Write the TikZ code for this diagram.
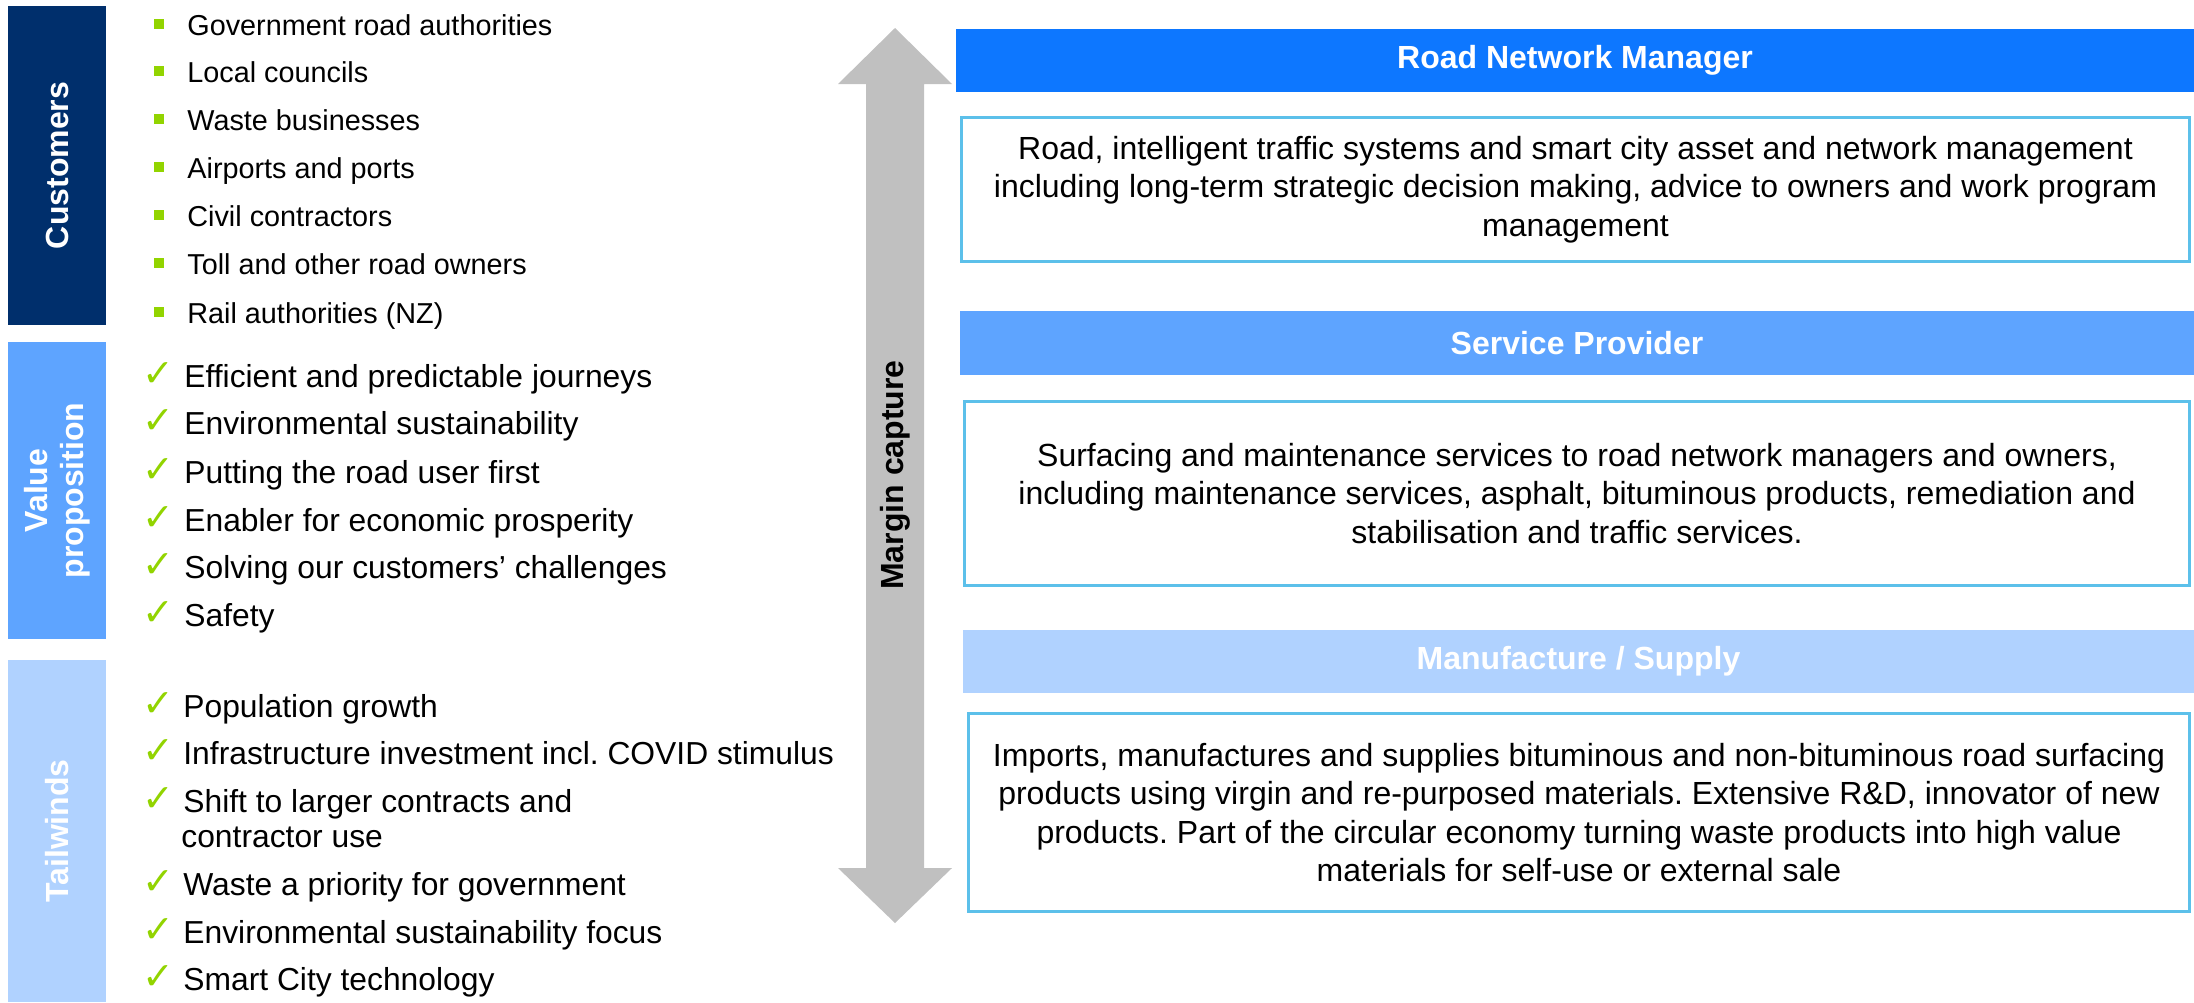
\documentclass[tikz,border=0pt]{standalone}
\usepackage{fontspec}
\setmainfont{Liberation Sans}
\newfontfamily\symfont{DejaVu Sans}
\frenchspacing
\definecolor{navy}{RGB}{0,47,108}
\definecolor{midblue}{RGB}{94,164,255}
\definecolor{paleblue}{RGB}{176,210,255}
\definecolor{strongblue}{RGB}{13,119,255}
\definecolor{cyanline}{RGB}{92,192,234}
\definecolor{arrowgray}{RGB}{192,192,192}
\definecolor{bulletgreen}{RGB}{146,212,0}
\tikzset{
  sidebox/.style={inner sep=0pt, minimum width=49pt},
  sidelbl/.style={rotate=90, text=white, font=\bfseries\fontsize{16}{18}\selectfont, align=center, inner sep=0pt},
  itemtxt/.style={anchor=base west, inner sep=0pt, font=\fontsize{14.4}{17.5}\selectfont},
  bigitem/.style={anchor=base west, inner sep=0pt, font=\fontsize{15.9}{17.5}\selectfont},
  sqbullet/.style={fill=bulletgreen, inner sep=0pt, minimum size=5pt},
  tick/.style={inner sep=0pt, text=bulletgreen, font=\symfont\fontsize{19}{19}\selectfont},
  hdrbox/.style={inner sep=0pt, text=white, font=\bfseries\fontsize{16}{18}\selectfont},
  bodybox/.style={draw=cyanline, line width=1.5pt, fill=white, inner sep=0pt, align=center, font=\fontsize{16}{19.25}\selectfont},
}
\begin{document}
\begin{tikzpicture}[x=0.5pt, y=-0.5pt]
\useasboundingbox (0,0) rectangle (2194,1002);
\fill[white] (0,0) rectangle (2194,1002);

% left category boxes
\node[sidebox, fill=navy, minimum height=159.5pt] (custbox) at (57,165.5) {};
\node[sidelbl] (custlbl) at (custbox.center) {Customers};
\node[sidebox, fill=midblue, minimum height=148.5pt] (vpbox) at (57,490.5) {};
\node[sidelbl] (vplbl) at (vpbox.center) {Value\\proposition};
\node[sidebox, fill=paleblue, minimum height=171pt] (twbox) at (57,831) {};
\node[sidelbl] (twlbl) at (twbox.center) {Tailwinds};

% customers items
\foreach \y/\t [count=\i] in {35/Government road authorities, 82/Local councils, 130/Waste businesses, 178/Airports and ports, 226/Civil contractors, 274/Toll and other road owners, 323/Rail authorities (NZ)}{
  \node[sqbullet] (cb\i) at (159,\y-11) {};
  \node[itemtxt] (ct\i) at (187,\y) {\t};
}

% value proposition items
\foreach \y/\t [count=\i] in {387/Efficient and predictable journeys, 434/Environmental sustainability, 483/Putting the road user first, 531/Enabler for economic prosperity, 578/Solving our customers’ challenges, 626/Safety}{
  \node[tick] (vb\i) at (158,\y-12) {✓};
  \node[bigitem] (vt\i) at (184,\y) {\t};
}

% tailwinds items
\foreach \y/\t [count=\i] in {717/Population growth, 764/Infrastructure investment incl. COVID stimulus, 812/Shift to larger contracts and, 895/Waste a priority for government, 943/Environmental sustainability focus, 990/Smart City technology}{
  \node[tick] (tb\i) at (158,\y-12) {✓};
  \node[bigitem] (tt\i) at (183,\y) {\t};
}
\node[bigitem] (tt3b) at (181,847) {contractor use};

% margin capture double arrow
\fill[arrowgray] (895,28) -- (952,84) -- (924,84) -- (924,868) -- (952,868) -- (895,923)
  -- (838,868) -- (866,868) -- (866,84) -- (838,84) -- cycle;
\node[rotate=90, inner sep=0pt, font=\bfseries\fontsize{16}{18}\selectfont] (mc) at (895,475) {Margin capture};

% right column
\node[hdrbox, fill=strongblue, minimum width=619pt, minimum height=31.5pt] (h1) at (1575,60.5) {Road Network Manager};
\node[bodybox, minimum width=614pt, minimum height=72pt] (b1) at (1575.5,189.5)
  {Road, intelligent traffic systems and smart city asset and network management\\
   including long-term strategic decision making, advice to owners and work program\\
   management};

\node[hdrbox, fill=midblue, minimum width=617pt, minimum height=32pt] (h2) at (1577,343) {Service Provider};
\node[bodybox, minimum width=612.5pt, minimum height=92pt] (b2) at (1577,493.5)
  {Surfacing and maintenance services to road network managers and owners,\\
   including maintenance services, asphalt, bituminous products, remediation and\\
   stabilisation and traffic services.};

\node[hdrbox, fill=paleblue, minimum width=615.5pt, minimum height=31.5pt] (h3) at (1578.5,661.5) {Manufacture / Supply};
\node[bodybox, minimum width=610.5pt, minimum height=99pt] (b3) at (1579,812.5)
  {Imports, manufactures and supplies bituminous and non-bituminous road surfacing\\
   products using virgin and re-purposed materials. Extensive R\&D, innovator of new\\
   products. Part of the circular economy turning waste products into high value\\
   materials for self-use or external sale};
\end{tikzpicture}
\end{document}
